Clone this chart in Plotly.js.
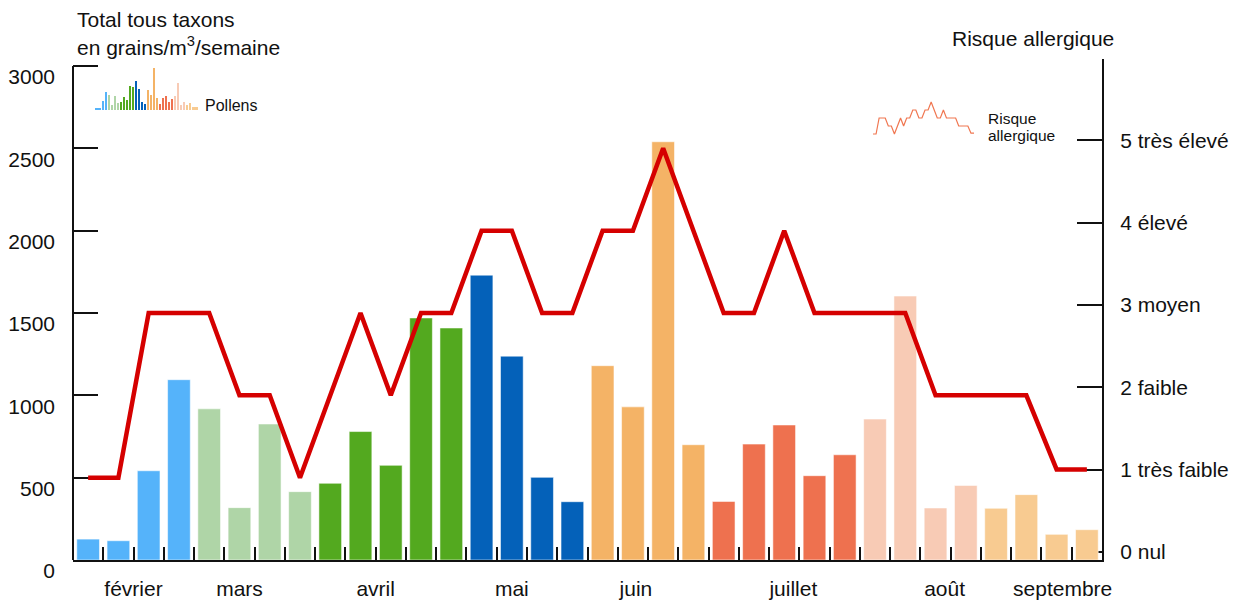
<!DOCTYPE html>
<html>
<head>
<meta charset="utf-8">
<script src="https://cdn.plot.ly/plotly-3.0.1.min.js"></script>
<style>
  html, body { margin: 0; padding: 0; background: #ffffff; }
  #chart { width: 1243px; height: 602px; }
</style>
</head>
<body>
<div id="chart"></div>
<script>
// ---- Data ----
const weekIndex = [0,1,2,3,4,5,6,7,8,9,10,11,12,13,14,15,16,17,18,19,20,21,22,23,24,25,26,27,28,29,30,31,32,33];
const pollenTotals = [127,117,542,1095,918,318,826,415,466,780,575,1470,1409,1730,1238,502,354,1180,930,2540,700,356,704,820,512,639,856,1603,316,453,314,397,156,184];
const riskLevels = [1,1,3,3,3,2,2,1,2,3,2,3,3,4,4,3,3,4,4,5,4,3,3,4,3,3,3,3,2,2,2,2,1.1,1.1];
const monthPositions = [1.5, 5, 9.5, 14, 18.1, 23.3, 28.3, 32.2];
const monthLabels = ["février","mars","avril","mai","juin","juillet","août","septembre"];
const leftTickVals = [0,500,1000,1500,2000,2500,3000];
const leftTickText = ["0","500","1000","1500","2000","2500","3000"];
const riskTickVals = [0,1,2,3,4,5,6];
const riskTickText = ["0 nul","1 très faible","2 faible","3 moyen","4 élevé","5 très élevé",""];

// ---- Styles ----
const barColors = [
  "#55b3fa","#55b3fa","#55b3fa","#55b3fa",
  "#afd5a7","#afd5a7","#afd5a7","#afd5a7",
  "#53a91f","#53a91f","#53a91f","#53a91f","#53a91f",
  "#0461b9","#0461b9","#0461b9","#0461b9",
  "#f4b366","#f4b366","#f4b366","#f4b366",
  "#ee714f","#ee714f","#ee714f","#ee714f","#ee714f",
  "#f8cbb5","#f8cbb5","#f8cbb5","#f8cbb5",
  "#f8cb91","#f8cb91","#f8cb91","#f8cb91"
];
const FONT = '"Liberation Sans", Arial, Helvetica, sans-serif';
const INK = '#111111';
const FS = 21;

const W = 1029, H = 501, L = 73, T = 59;
const px = v => (v - L) / W;
const py = v => (T + H - v) / H;

const leftTop = 3000 * H / 494;          // left axis value at top of plot area
const riskTop = leftTop / 500;           // risk line drawn on the same scale (1 level = 500)
const tickOffset = 8 / 82.3;             // right-axis labels sit slightly above the data levels
const riskTickPos = riskTickVals.map(v => Math.min(v + tickOffset, riskTop - 1e-6));

const boundaries = weekIndex.slice(0, -1).map(i => i + 0.5);

const traces = [
  {
    type: 'bar', x: weekIndex, y: pollenTotals, xaxis: 'x', yaxis: 'y',
    width: 0.75,
    marker: { color: barColors, line: { color: 'rgba(255,255,255,0.55)', width: 1 } },
    hoverinfo: 'skip', showlegend: false
  },
  {
    type: 'scatter', mode: 'lines', x: weekIndex, y: riskLevels, xaxis: 'x', yaxis: 'y2',
    line: { color: '#d50000', width: 4.5 },
    hoverinfo: 'skip', showlegend: false
  },
  // mini legend: pollens
  {
    type: 'bar', x: weekIndex, y: pollenTotals, xaxis: 'x4', yaxis: 'y4',
    width: 0.7, marker: { color: barColors, line: { width: 0 } },
    hoverinfo: 'skip', showlegend: false
  },
  // mini legend: risk line
  {
    type: 'scatter', mode: 'lines', x: weekIndex, y: riskLevels, xaxis: 'x5', yaxis: 'y5',
    line: { color: '#f07650', width: 1.2 },
    hoverinfo: 'skip', showlegend: false
  }
];

const layout = {
  width: 1243, height: 602,
  margin: { l: L, r: 141, t: T, b: 42, pad: 0 },
  paper_bgcolor: '#ffffff', plot_bgcolor: 'rgba(0,0,0,0)',
  font: { family: FONT, color: INK, size: FS },
  showlegend: false,
  bargap: 0,
  xaxis: {
    range: [-0.5, 33.5], showgrid: false, zeroline: false,
    showline: true, linecolor: INK, linewidth: 2,
    tickmode: 'array', tickvals: monthPositions, ticktext: monthLabels,
    ticks: '', ticklabelstandoff: 9,
    tickfont: { family: FONT, size: FS, color: INK },
    minor: { tickmode: 'array', tickvals: boundaries, ticks: 'inside', ticklen: 13, tickwidth: 2, tickcolor: INK, showgrid: false },
    layer: 'below traces', fixedrange: true
  },
  yaxis: {
    range: [0, leftTop], showgrid: false, zeroline: false, showline: false,
    tickmode: 'array', tickvals: leftTickVals, ticktext: leftTickText,
    ticks: 'inside', ticklen: 25, tickwidth: 2, tickcolor: INK,
    ticklabelstandoff: 17, ticklabelshift: 11,
    tickfont: { family: FONT, size: FS, color: INK },
    layer: 'below traces', fixedrange: true
  },
  yaxis2: {
    overlaying: 'y', side: 'right', anchor: 'x',
    range: [0, riskTop], showgrid: false, zeroline: false,
    showline: true, linecolor: INK, linewidth: 2,
    tickmode: 'array', tickvals: riskTickPos, ticktext: riskTickText,
    ticks: 'inside', ticklen: 25, tickwidth: 2, tickcolor: INK,
    ticklabelstandoff: 12,
    tickfont: { family: FONT, size: FS, color: INK },
    layer: 'below traces', fixedrange: true
  },
  xaxis4: { domain: [px(95), px(198)], anchor: 'y4', visible: false, range: [-0.5, 33.5], fixedrange: true },
  yaxis4: { domain: [py(110), py(66)], anchor: 'x4', visible: false, range: [0, 2650], fixedrange: true },
  xaxis5: { domain: [px(873), px(974)], anchor: 'y5', visible: false, range: [0, 33], fixedrange: true },
  yaxis5: { domain: [py(142), py(94)], anchor: 'x5', visible: false, range: [0, 6], fixedrange: true },
  shapes: [
    { type: 'line', xref: 'paper', yref: 'y', x0: 0, x1: 0, y0: 0, y1: 3000,
      line: { color: INK, width: 2 }, layer: 'below' }
  ],
  annotations: [
    { xref: 'paper', yref: 'paper', x: px(75), y: py(20), xanchor: 'left', yanchor: 'middle',
      text: 'Total tous taxons', showarrow: false, font: { family: FONT, size: FS, color: INK } },
    { xref: 'paper', yref: 'paper', x: px(75), y: py(46), xanchor: 'left', yanchor: 'middle',
      text: 'en grains/m<sup>3</sup>/semaine', showarrow: false, font: { family: FONT, size: FS, color: INK } },
    { xref: 'paper', yref: 'paper', x: px(950), y: py(38), xanchor: 'left', yanchor: 'middle',
      text: 'Risque allergique', showarrow: false, font: { family: FONT, size: FS, color: INK } },
    { xref: 'paper', yref: 'paper', x: px(203), y: py(105), xanchor: 'left', yanchor: 'middle',
      text: 'Pollens', showarrow: false, font: { family: FONT, size: 16, color: INK } },
    { xref: 'paper', yref: 'paper', x: px(986), y: py(118), xanchor: 'left', yanchor: 'middle',
      text: 'Risque', showarrow: false, font: { family: FONT, size: 15.5, color: INK } },
    { xref: 'paper', yref: 'paper', x: px(986), y: py(135), xanchor: 'left', yanchor: 'middle',
      text: 'allergique', showarrow: false, font: { family: FONT, size: 15.5, color: INK } }
  ]
};

Plotly.newPlot('chart', traces, layout, { staticPlot: true, displayModeBar: false });
</script>
</body>
</html>
